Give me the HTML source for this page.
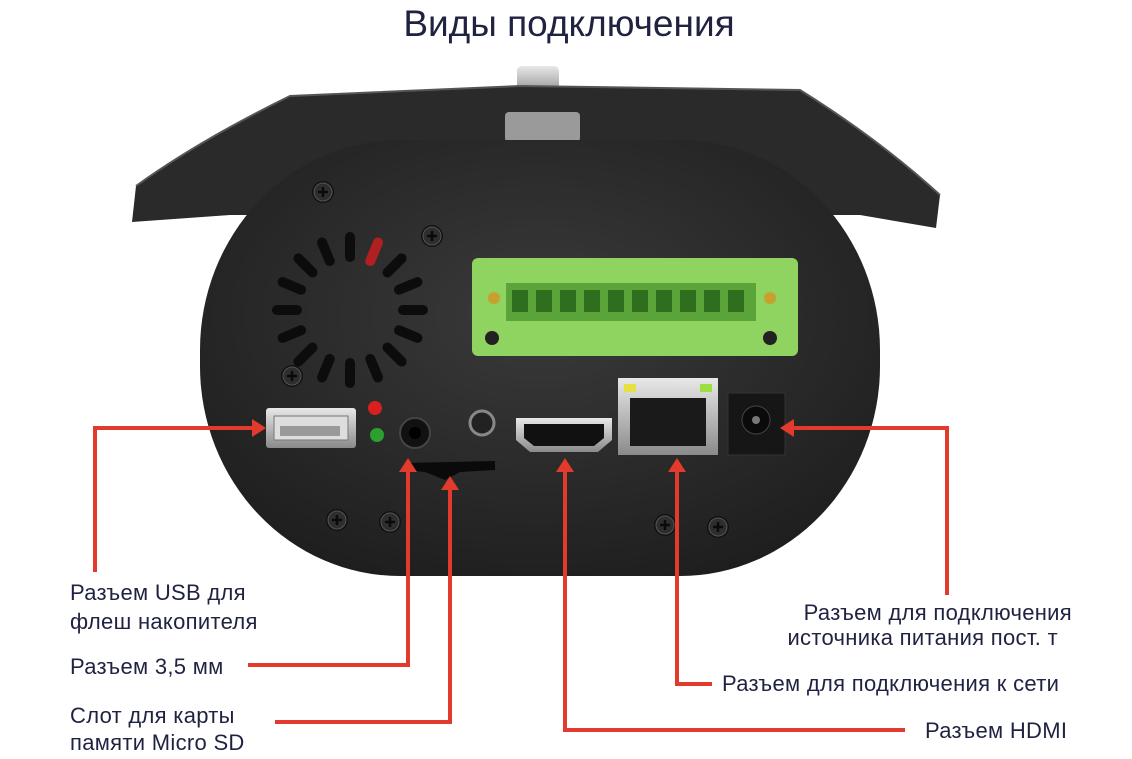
<!DOCTYPE html>
<html><head><meta charset="utf-8">
<style>
html,body{margin:0;padding:0;background:#fff;}
svg{display:block;}
text{font-family:"Liberation Sans",sans-serif;fill:#1f2240;}
</style></head>
<body>
<svg width="1132" height="759" viewBox="0 0 1132 759" xmlns="http://www.w3.org/2000/svg">
<defs>
<radialGradient id="bg" cx="0.5" cy="0.4" r="0.7">
<stop offset="0" stop-color="#3a3a3a"/><stop offset="1" stop-color="#1c1c1c"/></radialGradient>
<linearGradient id="metal" x1="0" y1="0" x2="0" y2="1">
<stop offset="0" stop-color="#e8e8e8"/><stop offset="1" stop-color="#8a8a8a"/></linearGradient>
<g id="screw"><circle r="11" fill="#111"/><circle r="9" fill="#2e2e2e" stroke="#555" stroke-width="1"/><path d="M-5 0H5M0 -5V5" stroke="#0a0a0a" stroke-width="2.5"/></g>
</defs>
<text x="569" y="36" font-size="37" text-anchor="middle">Виды подключения</text>
<rect x="517" y="66" width="42" height="30" rx="5" fill="url(#metal)"/>
<path d="M132 222 L136 186 Q200 140 290 96 L520 86 L800 90 Q880 140 940 195 L936 228 L860 215 L230 215 Z" fill="#2a2a2a"/>
<path d="M136 186 Q200 140 290 96 L520 86 L800 90 Q880 140 940 195" fill="none" stroke="#555" stroke-width="2"/>
<rect x="505" y="112" width="75" height="30" rx="4" fill="#9a9a9a"/>
<rect x="200" y="140" width="680" height="436" rx="200" ry="210" fill="url(#bg)"/>
<g transform="translate(350,310)">
<g fill="#0c0c0c">
<rect x="-5" y="-78" width="10" height="30" rx="5" transform="rotate(0)"/>
<rect x="-5" y="-78" width="10" height="30" rx="5" transform="rotate(45)"/>
<rect x="-5" y="-78" width="10" height="30" rx="5" transform="rotate(67.5)"/>
<rect x="-5" y="-78" width="10" height="30" rx="5" transform="rotate(90)"/>
<rect x="-5" y="-78" width="10" height="30" rx="5" transform="rotate(112.5)"/>
<rect x="-5" y="-78" width="10" height="30" rx="5" transform="rotate(135)"/>
<rect x="-5" y="-78" width="10" height="30" rx="5" transform="rotate(157.5)"/>
<rect x="-5" y="-78" width="10" height="30" rx="5" transform="rotate(180)"/>
<rect x="-5" y="-78" width="10" height="30" rx="5" transform="rotate(202.5)"/>
<rect x="-5" y="-78" width="10" height="30" rx="5" transform="rotate(225)"/>
<rect x="-5" y="-78" width="10" height="30" rx="5" transform="rotate(247.5)"/>
<rect x="-5" y="-78" width="10" height="30" rx="5" transform="rotate(270)"/>
<rect x="-5" y="-78" width="10" height="30" rx="5" transform="rotate(292.5)"/>
<rect x="-5" y="-78" width="10" height="30" rx="5" transform="rotate(315)"/>
<rect x="-5" y="-78" width="10" height="30" rx="5" transform="rotate(337.5)"/>
</g>
<rect x="-5" y="-78" width="10" height="30" rx="5" fill="#b02020" transform="rotate(22.5)"/>
</g>
<use href="#screw" x="323" y="192"/><use href="#screw" x="432" y="236"/><use href="#screw" x="292" y="376"/>
<use href="#screw" x="337" y="520"/><use href="#screw" x="390" y="522"/><use href="#screw" x="665" y="525"/><use href="#screw" x="718" y="527"/>
<rect x="472" y="258" width="326" height="98" rx="6" fill="#8fd460"/>
<rect x="506" y="283" width="250" height="38" fill="#5aa43a"/>
<g fill="#2f6e1f">
<rect x="512" y="290" width="16" height="22"/><rect x="536" y="290" width="16" height="22"/><rect x="560" y="290" width="16" height="22"/><rect x="584" y="290" width="16" height="22"/><rect x="608" y="290" width="16" height="22"/><rect x="632" y="290" width="16" height="22"/><rect x="656" y="290" width="16" height="22"/><rect x="680" y="290" width="16" height="22"/><rect x="704" y="290" width="16" height="22"/><rect x="728" y="290" width="16" height="22"/>
</g>
<circle cx="494" cy="298" r="6" fill="#c9a030"/><circle cx="770" cy="298" r="6" fill="#c9a030"/>
<circle cx="492" cy="338" r="7" fill="#222"/><circle cx="770" cy="338" r="7" fill="#222"/>
<rect x="266" y="408" width="90" height="40" rx="3" fill="url(#metal)"/>
<rect x="274" y="416" width="74" height="24" fill="#ddd" stroke="#777"/>
<rect x="280" y="426" width="60" height="10" fill="#999"/>
<circle cx="375" cy="408" r="7" fill="#d82020"/><circle cx="377" cy="435" r="7" fill="#2aa030"/>
<circle cx="415" cy="433" r="15" fill="#111" stroke="#444" stroke-width="2"/><circle cx="415" cy="433" r="6" fill="#000"/>
<circle cx="482" cy="423" r="12" fill="#222" stroke="#888" stroke-width="3"/>
<path d="M405 463 L495 461 L495 470 L460 472 L445 480 L425 472 L405 470Z" fill="#0a0a0a"/>
<path d="M516 418 H612 V440 L598 452 H530 L516 440Z" fill="url(#metal)"/>
<path d="M524 424 H604 V438 L594 446 H534 L524 438Z" fill="#111"/>
<rect x="618" y="378" width="100" height="77" fill="url(#metal)"/>
<rect x="624" y="384" width="12" height="8" fill="#e6e040"/><rect x="700" y="384" width="12" height="8" fill="#9be040"/>
<rect x="630" y="398" width="76" height="48" fill="#1a1a1a"/>
<rect x="728" y="393" width="57" height="62" fill="#161616" stroke="#333"/>
<circle cx="756" cy="420" r="14" fill="#0a0a0a" stroke="#444"/><circle cx="756" cy="420" r="4" fill="#777"/>
<g stroke="#e23a2d" stroke-width="4" fill="none">
<path d="M95 572 V428 H258"/>
<path d="M248 665 H408 V466"/>
<path d="M275 722 H450 V484"/>
<path d="M565 466 V730 H905"/>
<path d="M677 466 V684 H712"/>
<path d="M947 595 V428 H788"/>
</g>
<g fill="#e23a2d">
<path d="M266 428 L252 419 L252 437Z"/>
<path d="M408 458 L399 472 L417 472Z"/>
<path d="M450 476 L441 490 L459 490Z"/>
<path d="M565 458 L556 472 L574 472Z"/>
<path d="M677 458 L668 472 L686 472Z"/>
<path d="M780 428 L794 419 L794 437Z"/>
</g>
<g font-size="22" letter-spacing="0.3">
<text x="70" y="600">Разъем USB  для</text>
<text x="70" y="629">флеш накопителя</text>
<text x="70" y="674">Разъем 3,5 мм</text>
<text x="70" y="723">Слот для карты</text>
<text x="70" y="750">памяти Micro SD</text>
<text x="1072" y="620" text-anchor="end">Разъем для подключения</text>
<text x="1058" y="645" text-anchor="end">источника питания пост. т</text>
<text x="722" y="691">Разъем для подключения к сети</text>
<text x="925" y="738">Разъем HDMI</text>
</g>
</svg>
</body></html>
